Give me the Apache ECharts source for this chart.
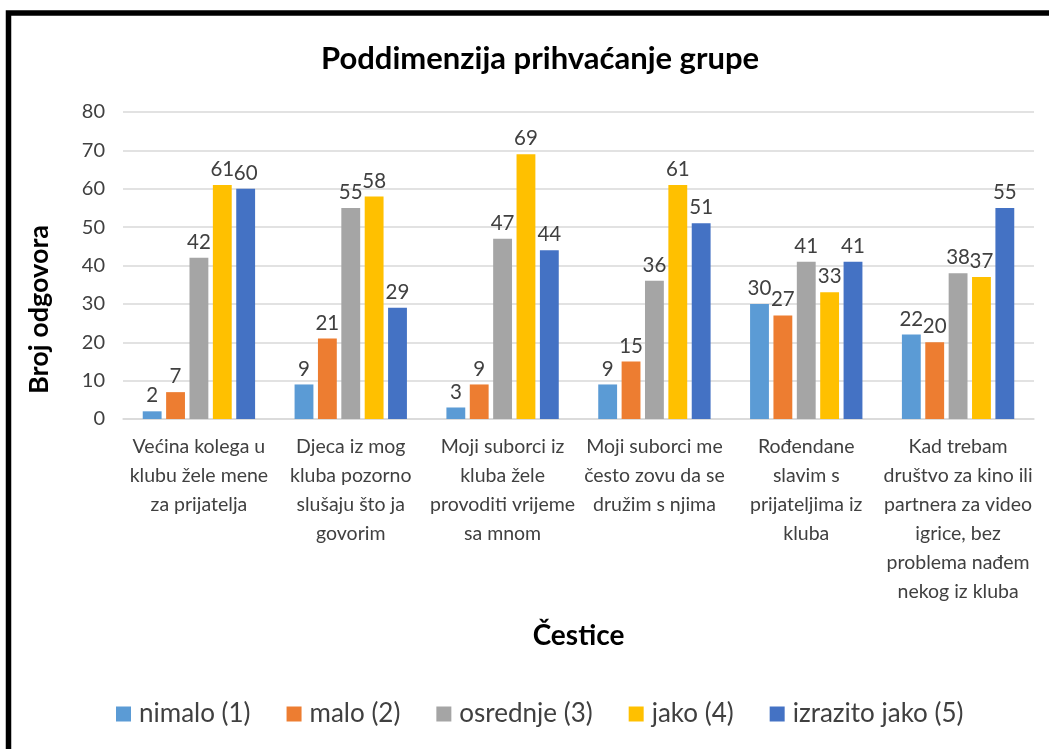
<!DOCTYPE html>
<html>
<head>
<meta charset="utf-8">
<title>Poddimenzija prihvaćanje grupe</title>
<script src="https://cdn.jsdelivr.net/npm/echarts@6/dist/echarts.min.js"></script>
<style>
  html, body { margin: 0; padding: 0; background: #fff; }
  #chart { width: 1049px; height: 749px; }
</style>
</head>
<body>
<div id="chart"></div>
<script>
// categories (line breaks as in the original chart)
const categories = [
  'Većina kolega u\nklubu žele mene\nza prijatelja',
  'Djeca iz mog\nkluba pozorno\nslušaju što ja\ngovorim',
  'Moji suborci iz\nkluba žele\nprovoditi vrijeme\nsa mnom',
  'Moji suborci me\nčesto zovu da se\ndružim s njima',
  'Rođendane\nslavim s\nprijateljima iz\nkluba',
  'Kad trebam\ndruštvo za kino ili\npartnera za video\nigrice, bez\nproblema nađem\nnekog iz kluba'
]
const seriesNames = ['nimalo (1)', 'malo (2)', 'osrednje (3)', 'jako (4)', 'izrazito jako (5)']
const nimalo = [2, 9, 3, 9, 30, 22]
const malo = [7, 21, 9, 15, 27, 20]
const osrednje = [42, 55, 47, 36, 41, 38]
const jako = [61, 58, 69, 61, 33, 37]
const izrazitoJako = [60, 29, 44, 51, 41, 55]
const yTicks = [0, 10, 20, 30, 40, 50, 60, 70, 80]

const colors = ['#5B9BD5', '#ED7D31', '#A5A5A5', '#FFC000', '#4472C4']
const values = [nimalo, malo, osrednje, jako, izrazitoJako]
const font = 'Lato, "Noto Sans", sans-serif'

const chart = echarts.init(document.getElementById('chart'))

const option = {
  animation: false,
  textStyle: { fontFamily: font },
  title: {
    text: 'Poddimenzija prihvaćanje grupe',
    left: 316,
    top: 38,
    textStyle: { fontSize: 31, fontWeight: 'bold', color: '#000', fontFamily: font }
  },
  legend: {
    data: seriesNames,
    top: 696,
    left: 111,
    itemWidth: 15,
    itemHeight: 15,
    itemGap: 36,
    icon: 'rect',
    textStyle: { fontSize: 26, color: '#404040', padding: [0, 0, 0, 3] }
  },
  grid: {
    left: 123,
    right: 15,
    top: 112,
    bottom: 330
  },
  xAxis: {
    type: 'category',
    data: categories,
    name: 'Čestice',
    nameLocation: 'middle',
    nameGap: 203,
    nameTextStyle: { fontSize: 28, fontWeight: 'bold', color: '#000', verticalAlign: 'top' },
    axisLine: { lineStyle: { color: '#d9d9d9', width: 1.5 } },
    axisTick: { show: false },
    axisLabel: {
      interval: 0,
      fontSize: 19.5,
      lineHeight: 29,
      color: '#404040',
      margin: 13
    }
  },
  yAxis: {
    type: 'value',
    min: 0,
    max: yTicks[yTicks.length - 1],
    interval: 10,
    name: 'Broj odgovora',
    nameLocation: 'middle',
    nameGap: 70,
    nameRotate: 90,
    nameTextStyle: { fontSize: 27, fontWeight: 'bold', color: '#000', padding: [0, 88, 0, 0] },
    axisLine: { show: false },
    axisTick: { show: false },
    axisLabel: { fontSize: 20, color: '#404040', margin: 18 },
    splitLine: { lineStyle: { color: '#d9d9d9', width: 1.5 } }
  },
  series: seriesNames.map((name, i) => ({
    name: name,
    type: 'bar',
    data: values[i],
    itemStyle: { color: colors[i] },
    barGap: '24%',
    barCategoryGap: '26%',
    label: {
      show: true,
      position: 'top',
      distance: 5,
      fontSize: 20.5,
      color: '#404040'
    }
  })),
  graphic: [
    {
      type: 'rect',
      shape: { x: 8.5, y: 13, width: 1200, height: 900 },
      style: { fill: 'none', stroke: '#000', lineWidth: 5.5 },
      silent: true
    }
  ]
}

chart.setOption(option)
window.addEventListener('resize', () => chart.resize())
</script>
</body>
</html>
